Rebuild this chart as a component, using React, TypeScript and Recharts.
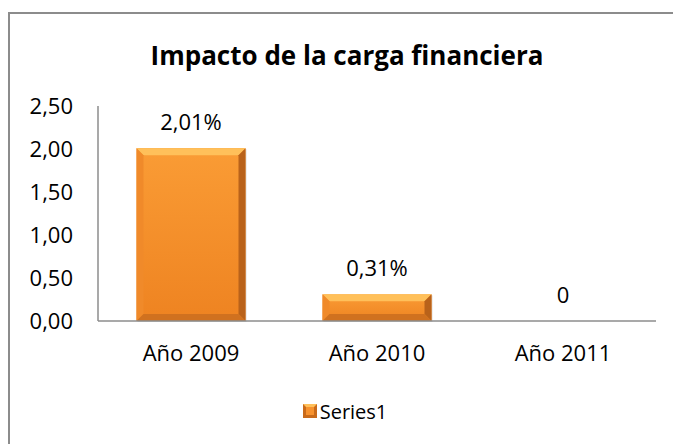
import { BarChart, Bar, XAxis, YAxis, LabelList, Legend } from 'recharts';

const years = ['Año 2009', 'Año 2010', 'Año 2011'];
const impacto = [2.01, 0.31, 0];
const barLabels = ['2,01%', '0,31%', '0'];
const yTicks = [0, 0.5, 1, 1.5, 2, 2.5];

const data = years.map((year, i) => ({ year, value: impacto[i], label: barLabels[i] }));

const font = '"Open Sans", sans-serif';

const BevelBar = (props: any) => {
  const { x, y, width, height } = props;
  if (!height || height <= 0) return null;
  const b = Math.min(7, height / 3);
  return (
    <g>
      <rect x={x + 1} y={y + 1} width={width} height={height} fill="#00000022" />
      <rect x={x} y={y} width={width} height={height} fill="url(#barFill)" />
      <polygon points={`${x},${y} ${x + width},${y} ${x + width - b},${y + b} ${x + b},${y + b}`} fill="#FFC05A" />
      <polygon points={`${x},${y} ${x + b},${y + b} ${x + b},${y + height - b} ${x},${y + height}`} fill="#F08A2A" />
      <polygon points={`${x + width},${y} ${x + width},${y + height} ${x + width - b},${y + height - b} ${x + width - b},${y + b}`} fill="#B9621A" />
      <polygon points={`${x},${y + height} ${x + b},${y + height - b} ${x + width - b},${y + height - b} ${x + width},${y + height}`} fill="#D0711F" />
    </g>
  );
};

const renderLegend = () => (
  <div style={{ display: 'flex', justifyContent: 'center', alignItems: 'center', height: 30, paddingLeft: 17, fontFamily: font, fontSize: 20, color: '#000' }}>
    <svg width={14} height={14} style={{ marginRight: 3 }}>
      <rect x={0} y={0} width={14} height={14} fill="#C96A1A" />
      <polygon points="0,0 14,0 7,7" fill="#FFC05A" />
      <rect x={3} y={3} width={8} height={8} fill="#F7922E" />
    </svg>
    <span>Series1</span>
  </div>
);

export default function App() {
  return (
    <div style={{ position: 'absolute', left: 0, top: 0, width: 673, height: 444, overflow: 'hidden', background: '#fff' }}>
      <div style={{ position: 'absolute', left: 8, top: 12, width: 700, height: 500, border: '2px solid #8c8c8c', boxSizing: 'border-box' }} />
      <div style={{ position: 'absolute', left: 0, top: 37, width: 673, textAlign: 'center', fontFamily: font, fontWeight: 700, fontSize: 26, lineHeight: '36px', color: '#000', paddingLeft: 21, boxSizing: 'border-box' }}>
        Impacto de la carga financiera
      </div>
      <div style={{ position: 'absolute', left: 0, top: 0 }}>
        <BarChart width={673} height={444} data={data} margin={{ top: 106, right: 17, left: 0, bottom: 18 }} barCategoryGap="20.7%">
          <defs>
            <linearGradient id="barFill" x1="0" y1="0" x2="0" y2="1">
              <stop offset="0%" stopColor="#FA9C35" />
              <stop offset="100%" stopColor="#EE8321" />
            </linearGradient>
          </defs>
          <YAxis
            width={98}
            domain={[0, 2.5]}
            ticks={yTicks}
            tickFormatter={(v: number) => v.toFixed(2).replace('.', ',')}
            tickLine={false}
            tickSize={0}
            tickMargin={25}
            axisLine={{ stroke: '#8c8c8c', strokeWidth: 1.5 }}
            tick={{ fill: '#000', fontSize: 22, fontFamily: font }}
            interval={0}
          />
          <XAxis
            dataKey="year"
            height={75}
            tickLine={false}
            tickSize={0}
            tickMargin={24}
            axisLine={{ stroke: '#8c8c8c', strokeWidth: 1.5 }}
            tick={{ fill: '#000', fontSize: 22, fontFamily: font }}
          />
          <Legend verticalAlign="bottom" content={renderLegend} wrapperStyle={{ left: 0, width: 673 }} />
          <Bar dataKey="value" name="Series1" shape={<BevelBar />} isAnimationActive={false}>
            <LabelList
              dataKey="label"
              content={(p: any) => (
                <text x={p.x + p.width / 2} y={p.y - 27} textAnchor="middle" dominantBaseline="central" fontSize={22} fontFamily={font} fill="#000">
                  {p.value}
                </text>
              )}
            />
          </Bar>
        </BarChart>
      </div>
    </div>
  );
}
